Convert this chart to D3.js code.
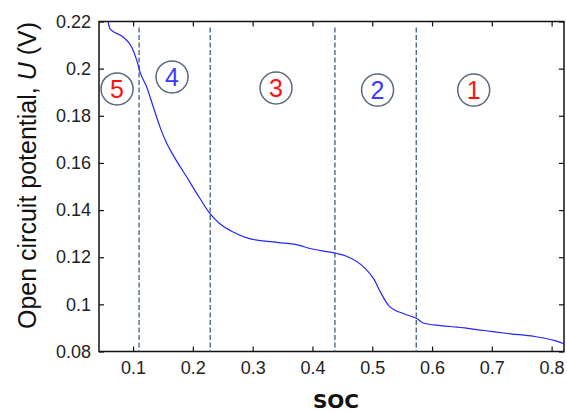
<!DOCTYPE html>
<html>
<head>
<meta charset="utf-8">
<script src="https://cdn.jsdelivr.net/npm/d3@7"></script>
<style>
body{margin:0;background:#fff;}
svg{display:block;}
</style>
</head>
<body>
<svg width="567" height="412"></svg>
<script>
// open circuit potential vs state of charge
var soc = [0.058, 0.0615, 0.0838, 0.0978, 0.1062, 0.1117, 0.1229, 0.134, 0.1452, 0.1564, 0.1675, 0.19, 0.2067, 0.2122,
	0.229, 0.2457, 0.268, 0.296, 0.3407, 0.38, 0.391, 0.4384, 0.458, 0.4858, 0.5025, 0.5137, 0.5276, 0.5528,
	0.5752, 0.5863, 0.6142, 0.6422, 0.6868, 0.7315, 0.7705, 0.804, 0.8208];
var ocv = [0.22, 0.2169, 0.2133, 0.2091, 0.2035, 0.1985, 0.1921, 0.1836, 0.1751, 0.1682, 0.1631, 0.1539, 0.147, 0.1448,
	0.1384, 0.1341, 0.1306, 0.1278, 0.1263, 0.1249, 0.124, 0.1217, 0.1203, 0.1158, 0.1108, 0.1052, 0.0995, 0.096,
	0.0939, 0.092, 0.091, 0.0903, 0.0889, 0.0875, 0.0864, 0.0847, 0.0833];

var boundaries = [0.110, 0.229, 0.4376, 0.5736];

var stageNames = ['5', '4', '3', '2', '1'];
var stageSoc = [0.0732, 0.1652, 0.3391, 0.5089, 0.6697];
var stageOcv = [0.1914, 0.1965, 0.1918, 0.1909, 0.1909];
var stageColors = ['#ff1010', '#3a3aff', '#ff1010', '#3a3aff', '#ff1010'];

var xTicks = [0.1, 0.2, 0.3, 0.4, 0.5, 0.6, 0.7, 0.8];
var yTicks = [0.08, 0.1, 0.12, 0.14, 0.16, 0.18, 0.2, 0.22];

var svg = d3.select('svg');
var margin = {left:99, right:3, top:21.5, bottom:60.5};
var width = +svg.attr('width'), height = +svg.attr('height');
var innerwidth = width - margin.left - margin.right;
var innerheight = height - margin.top - margin.bottom;

var xscale = d3.scaleLinear().domain([0.043, 0.8207]).range([0, innerwidth]);
var yscale = d3.scaleLinear().domain([0.08, 0.22]).range([innerheight, 0]);

var g = svg.append('g').attr('transform', `translate(${margin.left},${margin.top})`);

var fmt = d => String(+d.toFixed(2));

function styleAxis(sel, showText){
	sel.select('.domain').remove();
	sel.selectAll('.tick line').attr('stroke', '#111').attr('stroke-width', 1.2);
	sel.selectAll('.tick text').attr('fill', '#222')
		.style('font-family', 'Liberation Sans, Arial, sans-serif').style('font-size', '18px');
	if(!showText) sel.selectAll('.tick text').remove();
}

// bottom / top
g.append('g').attr('transform', `translate(0,${innerheight})`)
	.call(d3.axisBottom(xscale).tickValues(xTicks).tickFormat(fmt).tickSize(-5).tickPadding(10))
	.call(s => styleAxis(s, true));
g.append('g')
	.call(d3.axisTop(xscale).tickValues(xTicks).tickSize(-5))
	.call(s => styleAxis(s, false));
// left / right
g.append('g')
	.call(d3.axisLeft(yscale).tickValues(yTicks).tickFormat(fmt).tickSize(-5).tickPadding(8))
	.call(s => styleAxis(s, true));
g.append('g').attr('transform', `translate(${innerwidth},0)`)
	.call(d3.axisRight(yscale).tickValues(yTicks).tickSize(-5))
	.call(s => styleAxis(s, false));

// frame
g.append('rect').attr('x', 0).attr('y', 0).attr('width', innerwidth).attr('height', innerheight)
	.attr('fill', 'none').attr('stroke', '#111').attr('stroke-width', 1.5);

// stage boundaries
g.append('g').selectAll('line').data(boundaries).enter().append('line')
	.attr('x1', d => xscale(d)).attr('x2', d => xscale(d))
	.attr('y1', 6).attr('y2', innerheight)
	.attr('stroke', '#3b5d86').attr('stroke-width', 1.3).attr('stroke-dasharray', '5,2.5');

// curve
var pts = soc.map((s, i) => [s, ocv[i]]);
var line = d3.line().x(d => xscale(d[0])).y(d => yscale(d[1])).curve(d3.curveMonotoneX);
g.append('path').datum(pts).attr('d', line)
	.attr('fill', 'none').attr('stroke', '#2424ff').attr('stroke-width', 1.2);

// stage labels
var stages = g.append('g').selectAll('g').data(stageNames).enter().append('g')
	.attr('transform', (d, i) => `translate(${xscale(stageSoc[i])},${yscale(stageOcv[i])})`);
stages.append('circle').attr('r', 16).attr('fill', 'none').attr('stroke', '#5a6a7e').attr('stroke-width', 1.5);
stages.append('text').text(d => d)
	.attr('text-anchor', 'middle').attr('dy', '0.36em')
	.attr('fill', (d, i) => stageColors[i])
	.style('font-family', 'Liberation Sans, Arial, sans-serif').style('font-size', '25px');

// titles
svg.append('text').attr('transform', 'translate(36,175.5) rotate(-90)')
	.attr('text-anchor', 'middle').attr('fill', '#111')
	.style('font-family', 'Liberation Sans, Arial, sans-serif').style('font-size', '25px')
	.html('Open circuit potential, <tspan font-style="italic">U</tspan> (V)');

svg.append('text').attr('x', 336).attr('y', 408)
	.attr('text-anchor', 'middle').attr('fill', '#111')
	.style('font-family', 'DejaVu Sans, sans-serif').style('font-size', '20px').style('font-weight', 'bold')
	.text('SOC');
</script>
</body>
</html>
